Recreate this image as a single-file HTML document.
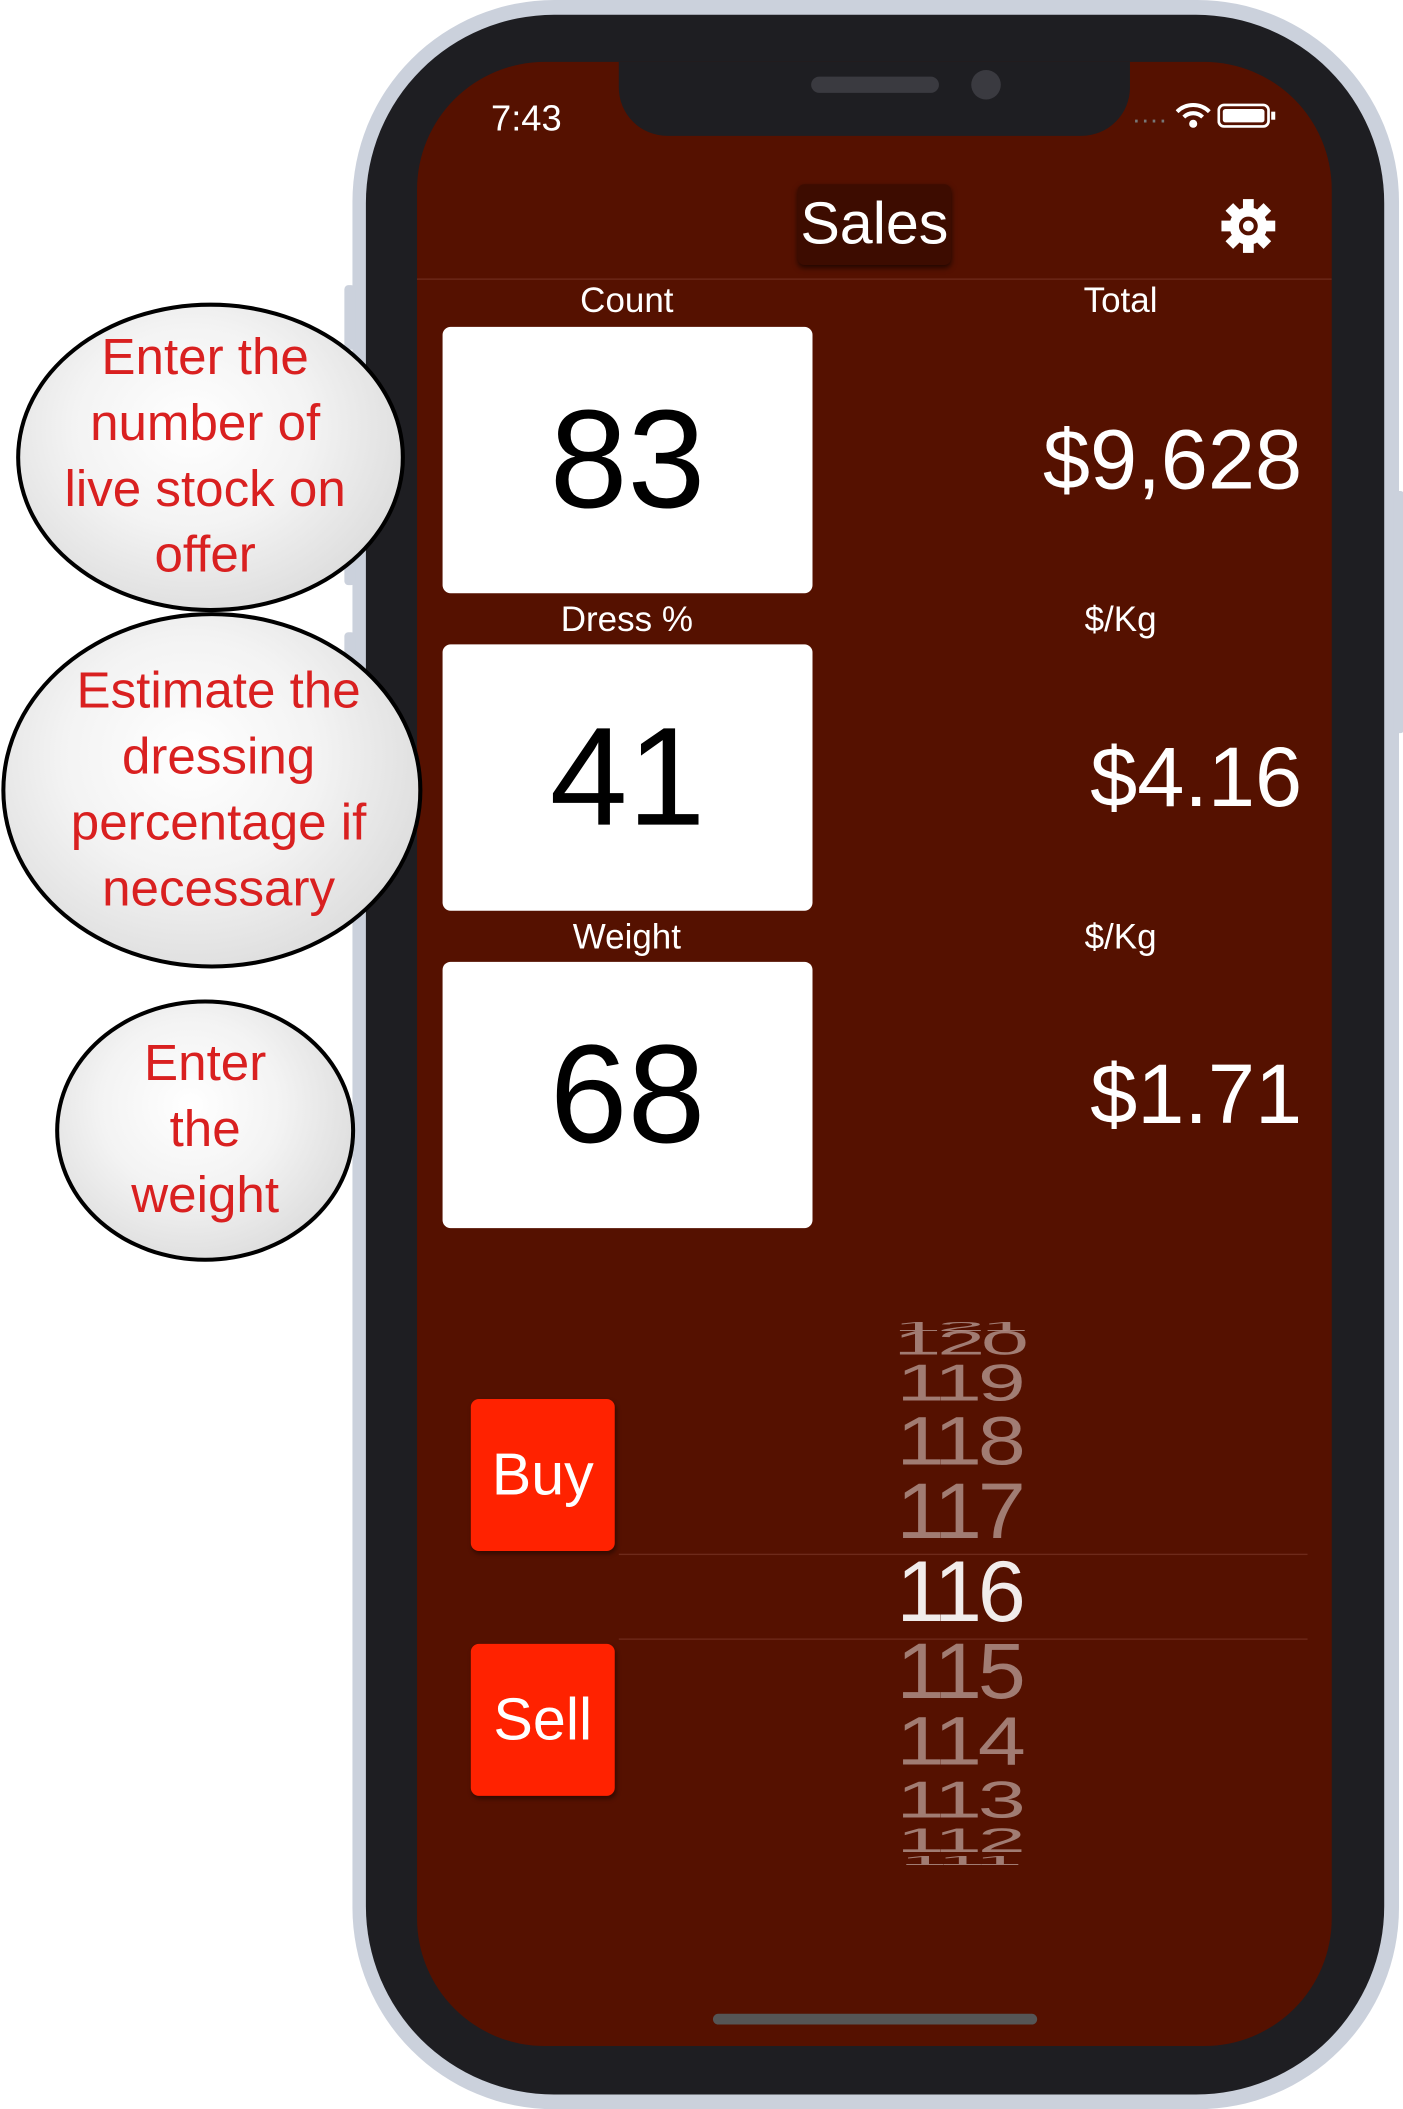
<!DOCTYPE html>
<html><head><meta charset="utf-8">
<style>
html,body{margin:0;padding:0;background:#fff;width:1403px;height:2109px;overflow:hidden}
#wrap{position:absolute;left:0;top:0;width:1043px;height:1568px;transform:scale(1.3452);transform-origin:0 0;font-family:"Liberation Sans",sans-serif}
.abs{position:absolute}
.lbl{position:absolute;color:#fff;font-size:26px;text-align:center;width:300px}
.box{position:absolute;left:329px;width:275px;height:198px;background:#fff;border-radius:6px;color:#000;font-size:104px;text-align:center;line-height:198px}
.val{position:absolute;right:75px;color:#fff;font-size:63px}
.btn{position:absolute;left:350px;width:107px;height:113px;background:#ff2200;border-radius:6px;color:#fff;font-size:44px;text-align:center;line-height:113px;box-shadow:1px 2px 3px rgba(0,0,0,.4)}
.ell{position:absolute;border:3px solid #000;border-radius:50%;background:radial-gradient(ellipse at 45% 40%,#fff 0%,#f3f3f3 40%,#cfcfcf 100%);color:#d92020;font-size:38px;text-align:center;display:flex;align-items:center;justify-content:center;line-height:49px;box-sizing:border-box}
.pk{position:absolute;left:613px;width:200px;text-align:center;color:rgba(255,255,255,.45);font-family:"Liberation Sans",sans-serif;letter-spacing:-3px;transform-origin:center center}
</style></head><body>
<div id="wrap">
  <div class="abs" style="left:262px;top:0;width:778px;height:1568px;background:#cbd1dc;border-radius:150px"></div>
  <div class="abs" style="left:256px;top:212px;width:8px;height:48px;background:#cbd1dc;border-radius:3px"></div>
  <div class="abs" style="left:256px;top:335px;width:8px;height:100px;background:#cbd1dc;border-radius:3px"></div>
  <div class="abs" style="left:256px;top:470px;width:8px;height:100px;background:#cbd1dc;border-radius:3px"></div>
  <div class="abs" style="left:1036px;top:365px;width:8px;height:180px;background:#cbd1dc;border-radius:3px"></div>
  <div class="abs" style="left:272px;top:11px;width:757px;height:1546px;background:#1e1e22;border-radius:140px"></div>
  <div class="abs" style="left:310px;top:46px;width:680px;height:1475px;background:#551100;border-radius:95px;overflow:hidden">
    <div class="abs" style="left:150px;top:-10px;width:380px;height:65px;background:#1e1e22;border-radius:0 0 36px 36px"></div>
    <div class="abs" style="left:293px;top:11px;width:95px;height:12px;background:#3a3a40;border-radius:6px"></div>
    <div class="abs" style="left:412px;top:6px;width:22px;height:22px;background:#3a3a40;border-radius:50%"></div>
    <div class="abs" style="left:55px;top:27px;color:#fff;font-size:27px">7:43</div>
    <div class="abs" style="left:532px;top:28px;color:#fff;font-size:20px">
      <span style="color:#777;letter-spacing:1px">....</span>
      <svg width="26" height="22" viewBox="0 0 26 22" style="vertical-align:middle"><path d="M1 8 A17 17 0 0 1 25 8" stroke="#fff" stroke-width="3" fill="none"/><path d="M6 12 A10 10 0 0 1 20 12" stroke="#fff" stroke-width="3" fill="none"/><circle cx="13" cy="17" r="3" fill="#fff"/></svg>
      <svg width="44" height="20" viewBox="0 0 44 20" style="vertical-align:middle"><rect x="1" y="2" width="37" height="16" rx="4" stroke="#fff" stroke-width="2" fill="none"/><rect x="4" y="5" width="31" height="10" rx="2" fill="#fff"/><rect x="40" y="7" width="3" height="6" fill="#fff"/></svg>
    </div>
    <div class="abs" style="left:283px;top:91px;width:114px;height:60px;background:#3d0c00;border-radius:5px;box-shadow:0 2px 4px rgba(0,0,0,.6);color:#fff;font-size:44px;text-align:center;line-height:60px">Sales</div>
    <svg class="abs" style="left:597px;top:101px" width="42" height="42" viewBox="0 0 42 42"><g transform="translate(21 21)" fill="#fff"><circle r="14"/><rect x="-4" y="-20" width="8" height="8"/><rect x="-4" y="12" width="8" height="8"/><rect x="-20" y="-4" width="8" height="8"/><rect x="12" y="-4" width="8" height="8"/><rect x="-4" y="-20" width="8" height="8" transform="rotate(45)"/><rect x="-4" y="-20" width="8" height="8" transform="rotate(135)"/><rect x="-4" y="-20" width="8" height="8" transform="rotate(225)"/><rect x="-4" y="-20" width="8" height="8" transform="rotate(315)"/></g><circle cx="21" cy="21" r="7" fill="#551100"/><circle cx="21" cy="21" r="4" fill="#fff"/></svg>
    <div class="abs" style="left:0;top:161px;width:680px;height:1px;background:#6e2a1a"></div>
  </div>
  <div class="lbl" style="left:316px;top:208px">Count</div>
  <div class="lbl" style="left:683px;top:208px">Total</div>
  <div class="box" style="top:243px">83</div>
  <div class="val" style="top:306px">$9,628</div>
  <div class="lbl" style="left:316px;top:445px">Dress %</div>
  <div class="lbl" style="left:683px;top:445px">$/Kg</div>
  <div class="box" style="top:479px">41</div>
  <div class="val" style="top:542px">$4.16</div>
  <div class="lbl" style="left:316px;top:681px">Weight</div>
  <div class="lbl" style="left:683px;top:681px">$/Kg</div>
  <div class="box" style="top:715px">68</div>
  <div class="val" style="top:778px">$1.71</div>
  <div class="btn" style="top:1040px">Buy</div>
  <div class="btn" style="top:1222px">Sell</div>
  <div class="abs" style="left:460px;top:1155px;width:512px;height:1px;background:#6e2a1a"></div>
  <div class="abs" style="left:460px;top:1218px;width:512px;height:1px;background:#6e2a1a"></div>
  <div id="picker"></div>
  <div class="abs" style="left:530px;top:1497px;width:241px;height:8px;background:#555;border-radius:4px"></div>
  <div class="ell" style="left:12px;top:225px;width:289px;height:230px;padding-right:8px">Enter the<br>number of<br>live stock on<br>offer</div>
  <div class="ell" style="left:1px;top:455px;width:313px;height:265px;padding-left:10px">Estimate the<br>dressing<br>percentage if<br>necessary</div>
  <div class="ell" style="left:41px;top:743px;width:223px;height:195px">Enter<br>the<br>weight</div>
</div>
<script>
const pickerValues=[121,120,119,118,117,116,115,114,113,112,111];
const pickerCenters=[986,998,1028,1071,1123,1183,1242,1294,1338,1368,1383];
const pickerScaleY=[0.15,0.4,0.6,0.8,0.92,1,0.92,0.8,0.6,0.4,0.15];
const pk=document.getElementById('picker');
pickerValues.forEach((v,i)=>{
  const d=document.createElement('div');
  
  
  d.className='pk';
  d.textContent=v;
  d.style.fontSize='64px';d.style.lineHeight='64px';
  d.style.top=(pickerCenters[i]-32)+'px';
  d.style.transform='scaleY('+pickerScaleY[i]+')';
  if(v===116)d.style.color='rgba(255,255,255,.92)';
  pk.appendChild(d);
});
</script>
</body></html>
